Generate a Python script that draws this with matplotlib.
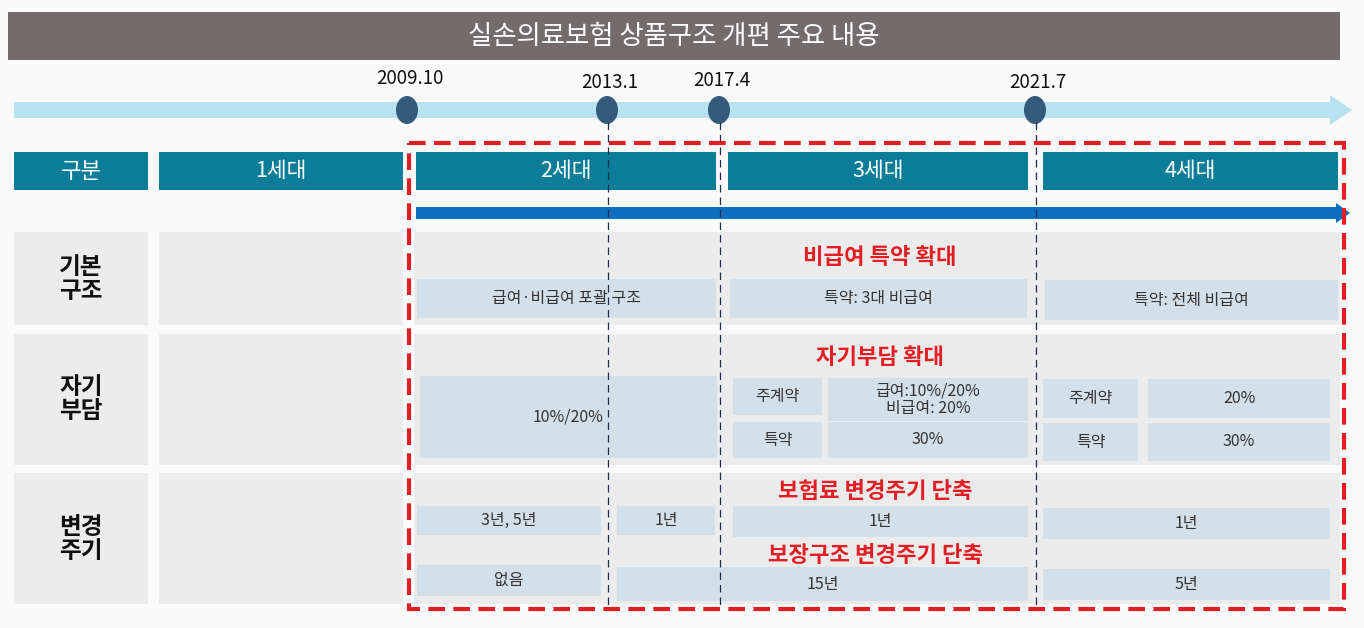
import matplotlib
matplotlib.use("Agg")
import matplotlib.pyplot as plt
from matplotlib import patches

plt.rcParams['font.family'] = ['Noto Sans CJK KR', 'DejaVu Sans']

# ---- content ----
title = '실손의료보험 상품구조 개편 주요 내용'
dates = ['2009.10', '2013.1', '2017.4', '2021.7']
generations = ['1세대', '2세대', '3세대', '4세대']
row_labels = ['기본\n구조', '자기\n부담', '변경\n주기']
notes = ['비급여 특약 확대', '자기부담 확대', '보험료 변경주기 단축', '보장구조 변경주기 단축']

basic_cells = ['급여·비급여 포괄 구조', '특약: 3대 비급여', '특약: 전체 비급여']
copay_gen2 = '10%/20%'
copay_gen3 = [('주계약', '급여:10%/20%\n비급여: 20%'), ('특약', '30%')]
copay_gen4 = [('주계약', '20%'), ('특약', '30%')]
premium_cycle = ['3년, 5년', '1년', '1년', '1년']
coverage_cycle = ['없음', '15년', '5년']

# ---- layout (pixel units, y down) ----
W, H = 1364, 628
date_x = [407, 607, 719, 1035]
date_label_y = [78, 82, 80, 83]
gen_x = [(159, 403), (416, 716), (728, 1028), (1043, 1338)]
row_y = [(232, 325), (334, 465), (473, 604)]

C_TITLE = '#726c6c'
C_TEAL = '#0b7d98'
C_CELL = '#d3dfe9'
C_ROW = '#ececec'
C_DOT = '#345a7c'
C_LIGHT = '#b6e3ef'
C_BLUE = '#0d6ebf'
C_RED = '#e31e24'
C_TXT = '#333333'

fig = plt.figure(figsize=(W / 100, H / 100), dpi=100, facecolor='#fafafa')
ax = fig.add_axes([0, 0, 1, 1])
ax.set_xlim(0, W)
ax.set_ylim(H, 0)
ax.axis('off')


def box(x0, x1, y0, y1, color, text=None, size=11.5, tcolor=C_TXT, weight='normal', z=2):
    ax.add_patch(patches.Rectangle((x0, y0), x1 - x0, y1 - y0, facecolor=color,
                                   edgecolor='none', zorder=z))
    if text:
        ax.text((x0 + x1) / 2, (y0 + y1) / 2, text, ha='center', va='center',
                fontsize=size, color=tcolor, weight=weight, zorder=z + 1,
                linespacing=1.0)


# title bar
box(8, 1340, 12, 60, C_TITLE, title, size=19, tcolor='white', weight='medium')

# timeline
ax.add_patch(patches.FancyArrow(14, 110, 1338, 0, width=16, head_width=30,
                                head_length=22, length_includes_head=True,
                                facecolor=C_LIGHT, edgecolor='none', zorder=2))
for x, ly, d in zip(date_x, date_label_y, dates):
    ax.add_patch(patches.Ellipse((x, 110), 22, 28, facecolor=C_DOT,
                                 edgecolor='none', zorder=4))
    ax.text(x + 3, ly, d, ha='center', va='center', fontsize=13.5,
            color='#111111', weight='medium')

# vertical dashed guides
for x in date_x[1:]:
    ax.plot([x + 1, x + 1], [122, 608], color='#1f2d4d', lw=0.9,
            dashes=(6, 4), zorder=5)

# header row
box(14, 148, 152, 190, C_TEAL, '구분', size=16, tcolor='white')
for (x0, x1), g in zip(gen_x, generations):
    box(x0, x1, 152, 190, C_TEAL, g, size=15.5, tcolor='white')

# blue progress arrow
ax.add_patch(patches.FancyArrow(416, 213, 934, 0, width=12, head_width=20,
                                head_length=14, length_includes_head=True,
                                facecolor=C_BLUE, edgecolor='none', zorder=3))

# row backgrounds and labels
for (y0, y1), lab in zip(row_y, row_labels):
    box(14, 148, y0, y1, C_ROW, lab, size=17, tcolor='#111111', weight='bold', z=1)
    box(159, 403, y0, y1, C_ROW, z=1)
    box(414, 1340, y0, y1, C_ROW, z=1)

# row 1: basic structure
ax.text(880, 257, notes[0], ha='center', va='center', fontsize=16,
        color=C_RED, weight='bold', zorder=4)
box(417, 716, 279, 318, C_CELL, basic_cells[0])
box(730, 1027, 279, 318, C_CELL, basic_cells[1])
box(1045, 1338, 280, 320, C_CELL, basic_cells[2])

# row 2: co-payment
ax.text(880, 358, notes[1], ha='center', va='center', fontsize=16,
        color=C_RED, weight='bold', zorder=4)
box(420, 717, 376, 458, C_CELL, copay_gen2)
gen3_rows = [(378, 415), (422, 458)]
for (y0, y1), (k, v) in zip(gen3_rows, copay_gen3):
    box(733, 822, y0, y1, C_CELL, k)
    box(828, 1028, y0, y1 + (6 if k == '주계약' else 0), C_CELL, v)
gen4_rows = [(379, 418), (423, 461)]
for (y0, y1), (k, v) in zip(gen4_rows, copay_gen4):
    box(1043, 1138, y0, y1, C_CELL, k)
    box(1148, 1330, y0, y1, C_CELL, v)

# row 3: change cycle
ax.text(875, 491, notes[2], ha='center', va='center', fontsize=16,
        color=C_RED, weight='bold', zorder=4)
prem_x = [(417, 601), (617, 715), (733, 1028), (1043, 1330)]
prem_y = [(506, 535), (506, 535), (506, 537), (508, 539)]
for (x0, x1), (y0, y1), t in zip(prem_x, prem_y, premium_cycle):
    box(x0, x1, y0, y1, C_CELL, t)

ax.text(875, 555, notes[3], ha='center', va='center', fontsize=16,
        color=C_RED, weight='bold', zorder=4)
cov_x = [(417, 601), (617, 1028), (1043, 1330)]
cov_y = [(565, 596), (567, 601), (569, 600)]
for (x0, x1), (y0, y1), t in zip(cov_x, cov_y, coverage_cycle):
    box(x0, x1, y0, y1, C_CELL, t)

# red dashed frame
ax.add_patch(patches.Rectangle((409, 143), 935, 466, fill=False,
                               edgecolor=C_RED, lw=3, linestyle=(0, (4, 2)),
                               zorder=6))

fig.savefig('out.png', dpi=100, facecolor=fig.get_facecolor())
